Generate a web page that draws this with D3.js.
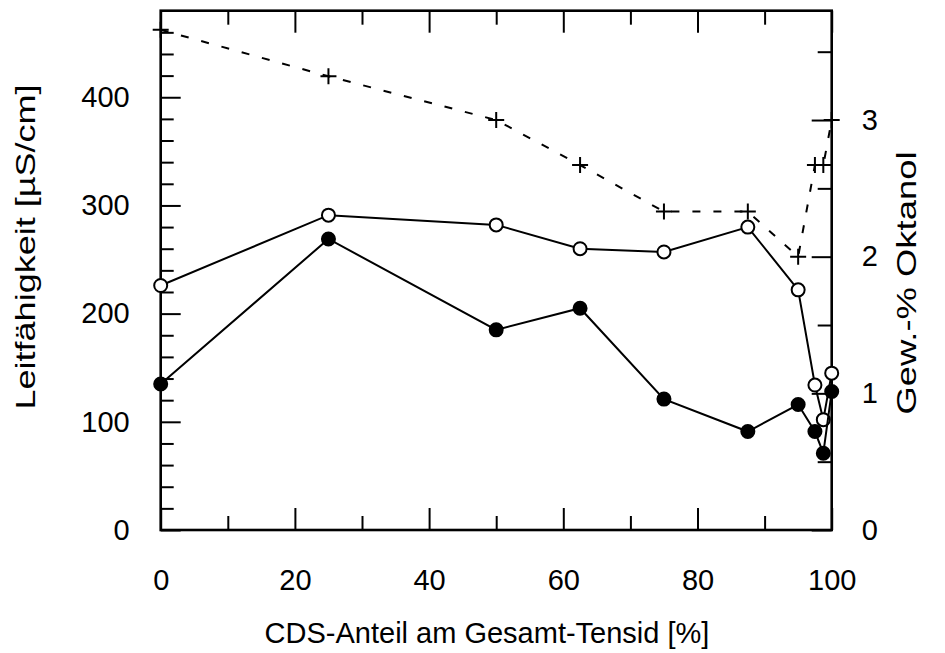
<!DOCTYPE html>
<html>
<head>
<meta charset="utf-8">
<script src="https://cdn.jsdelivr.net/npm/d3@7"></script>
<style>
    html, body { margin: 0; padding: 0; background: #fff; }
    svg { display: block; font-family: "Liberation Sans", Arial, sans-serif; }
    .tick text { font-size: 29px; fill: #000; }
    .tick line { stroke: #000; stroke-width: 2; }
</style>
</head>
<body>
<div id="chart"></div>
<script>
// CDS share of total surfactant [%]
const cdsShare = [0, 25, 50, 62.5, 75, 87.5, 95, 97.5, 98.75, 100];
// conductivity [µS/cm], open and filled circles
const conductivityOpen = [226, 291, 282, 260, 257, 280, 222, 134, 102, 145];
const conductivityFilled = [135, 269, 185, 205, 121, 91, 116, 91, 71, 128];
// wt.-% octanol (right axis), crosses
const octanolShare = [3.66, 3.32, 3.0, 2.67, 2.33, 2.33, 2.0, 2.67, 2.67, 3.0];

const xMajor = [0, 20, 40, 60, 80, 100];
const xMinor = [10, 30, 50, 70, 90];
const yMajor = [0, 100, 200, 300, 400];
const yMinor = d3.range(20, 480, 20).filter(v => v % 100 !== 0);
const y2Major = [0, 1, 2, 3];
const y2Minor = [0.5, 1.5, 2.5, 3.5];

const width = 945, height = 653;
const plot = { left: 160.7, right: 831.7, top: 10.7, bottom: 530 };

const svg = d3.select('#chart').append('svg')
    .attr('width', width)
    .attr('height', height);

const x = d3.scaleLinear().domain([0, 100]).range([plot.left, plot.right]);
const y = d3.scaleLinear().domain([0, 480]).range([plot.bottom, plot.top]);
const y2 = d3.scaleLinear().domain([0, 3.8]).range([plot.bottom, plot.top]);

// axes: ticks point inward, labels only on bottom / left / right
function drawAxis(axis, tx, ty) {
    const g = svg.append('g')
        .attr('transform', `translate(${tx},${ty})`)
        .call(axis);
    g.select('.domain').remove();
    return g;
}

drawAxis(d3.axisBottom(x).tickValues(xMajor).tickSize(-22).tickPadding(39).tickFormat(d3.format('d')), 0, plot.bottom);
drawAxis(d3.axisBottom(x).tickValues(xMinor).tickSize(-14).tickFormat(''), 0, plot.bottom);
drawAxis(d3.axisTop(x).tickValues(xMajor).tickSize(-22).tickFormat(''), 0, plot.top);
drawAxis(d3.axisTop(x).tickValues(xMinor).tickSize(-14).tickFormat(''), 0, plot.top);

drawAxis(d3.axisLeft(y).tickValues(yMajor).tickSize(-20).tickPadding(31).tickFormat(d3.format('d')), plot.left, 0);
drawAxis(d3.axisLeft(y).tickValues(yMinor).tickSize(-13).tickFormat(''), plot.left, 0);

drawAxis(d3.axisRight(y2).tickValues(y2Major).tickSize(-20).tickPadding(30).tickFormat(d3.format('d')), plot.right, 0);
drawAxis(d3.axisRight(y2).tickValues(y2Minor).tickSize(-14).tickFormat(''), plot.right, 0);

// frame
svg.append('rect')
    .attr('x', plot.left)
    .attr('y', plot.top)
    .attr('width', plot.right - plot.left)
    .attr('height', plot.bottom - plot.top)
    .attr('fill', 'none')
    .attr('stroke', '#000')
    .attr('stroke-width', 2.6);

// axis titles
svg.append('text')
    .attr('x', 487)
    .attr('y', 643)
    .attr('text-anchor', 'middle')
    .attr('font-size', 29)
    .text('CDS-Anteil am Gesamt-Tensid [%]');

svg.append('text')
    .attr('transform', 'translate(35,247) rotate(-90)')
    .attr('text-anchor', 'middle')
    .attr('font-size', 28)
    .attr('textLength', 325)
    .attr('lengthAdjust', 'spacingAndGlyphs')
    .text('Leitfähigkeit [µS/cm]');

svg.append('text')
    .attr('transform', 'translate(916,283) rotate(-90)')
    .attr('text-anchor', 'middle')
    .attr('font-size', 28)
    .attr('textLength', 263)
    .attr('lengthAdjust', 'spacingAndGlyphs')
    .text('Gew.-% Oktanol');

// series
const octanol = cdsShare.map((c, i) => ({ x: c, y: octanolShare[i] }));
const openPts = cdsShare.map((c, i) => ({ x: c, y: conductivityOpen[i] }));
const filledPts = cdsShare.map((c, i) => ({ x: c, y: conductivityFilled[i] }));

svg.append('path')
    .datum(octanol)
    .attr('fill', 'none')
    .attr('stroke', '#000')
    .attr('stroke-width', 2)
    .attr('stroke-dasharray', '8,13')
    .attr('d', d3.line().x(d => x(d.x)).y(d => y2(d.y)));

svg.selectAll('.cross')
    .data(octanol)
    .join('path')
    .attr('class', 'cross')
    .attr('transform', d => `translate(${x(d.x)},${y2(d.y)})`)
    .attr('d', 'M-8,0H8M0,-8V8')
    .attr('stroke', '#000')
    .attr('stroke-width', 2);

const line = d3.line().x(d => x(d.x)).y(d => y(d.y));

[[openPts, '#fff'], [filledPts, '#000']].forEach(([pts, fill]) => {
    svg.append('path')
        .datum(pts)
        .attr('fill', 'none')
        .attr('stroke', '#000')
        .attr('stroke-width', 2)
        .attr('d', line);

    svg.append('g')
        .selectAll('circle')
        .data(pts)
        .join('circle')
        .attr('cx', d => x(d.x))
        .attr('cy', d => y(d.y))
        .attr('r', 6.5)
        .attr('fill', fill)
        .attr('stroke', '#000')
        .attr('stroke-width', 2);
});
</script>
</body>
</html>
